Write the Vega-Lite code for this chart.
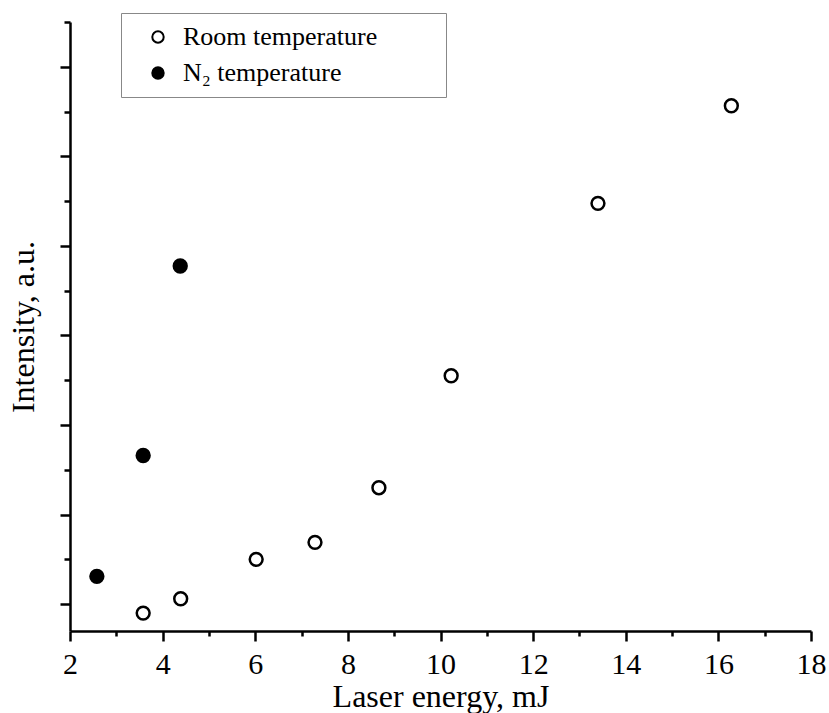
{
  "$schema": "https://vega.github.io/schema/vega-lite/v6.json",
  "autosize": {"type": "none"},
  "padding": {"left": 70, "top": 22, "right": 18, "bottom": 82},
  "width": 741,
  "height": 609,
  "background": "white",
  "config": {
    "view": {"stroke": null},
    "font": "Liberation Serif",
    "axis": {
      "domainColor": "black",
      "domainWidth": 2.5,
      "tickColor": "black",
      "tickWidth": 2.5,
      "grid": false,
      "labelFont": "Liberation Serif",
      "labelFontSize": 30,
      "labelColor": "black",
      "titleFont": "Liberation Serif",
      "titleFontSize": 32,
      "titleFontWeight": "normal",
      "titleColor": "black"
    }
  },
  "data": {
    "values": [
      {"energy": 3.58, "intensity": -0.10, "series": "Room temperature"},
      {"energy": 4.39, "intensity": 0.06, "series": "Room temperature"},
      {"energy": 6.02, "intensity": 0.50, "series": "Room temperature"},
      {"energy": 7.29, "intensity": 0.69, "series": "Room temperature"},
      {"energy": 8.67, "intensity": 1.30, "series": "Room temperature"},
      {"energy": 10.23, "intensity": 2.55, "series": "Room temperature"},
      {"energy": 13.40, "intensity": 4.475, "series": "Room temperature"},
      {"energy": 16.28, "intensity": 5.565, "series": "Room temperature"},
      {"energy": 2.58, "intensity": 0.31, "series": "N₂ temperature"},
      {"energy": 3.58, "intensity": 1.66, "series": "N₂ temperature"},
      {"energy": 4.38, "intensity": 3.775, "series": "N₂ temperature"}
    ]
  },
  "mark": {"type": "point", "shape": "circle", "filled": true, "size": 165, "stroke": "black", "strokeWidth": 2.5, "opacity": 1},
  "encoding": {
    "x": {
      "field": "energy",
      "type": "quantitative",
      "scale": {"domain": [2, 18], "nice": false, "zero": false},
      "axis": {
        "title": "Laser energy, mJ",
        "values": [2, 3, 4, 5, 6, 7, 8, 9, 10, 11, 12, 13, 14, 15, 16, 17, 18],
        "labelExpr": "datum.value % 2 === 0 ? datum.label : ''",
        "tickSize": {"condition": {"test": "datum.value % 2 === 1", "value": 5}, "value": 10},
        "labelPadding": 8,
        "titlePadding": 2,
        "labelFlush": false,
        "labelOverlap": false
      }
    },
    "y": {
      "field": "intensity",
      "type": "quantitative",
      "scale": {"domain": [-0.3, 6.5], "nice": false, "zero": false},
      "axis": {
        "title": "Intensity, a.u.",
        "values": [0, 0.5, 1, 1.5, 2, 2.5, 3, 3.5, 4, 4.5, 5, 5.5, 6, 6.5],
        "labels": false,
        "tickSize": {"condition": {"test": "datum.value % 1 !== 0", "value": 6}, "value": 10},
        "titlePadding": 18
      }
    },
    "fill": {
      "field": "series",
      "type": "nominal",
      "scale": {"domain": ["Room temperature", "N₂ temperature"], "range": ["white", "black"]},
      "legend": {
        "title": null,
        "orient": "none",
        "legendX": 51,
        "legendY": -9,
        "padding": 11,
        "fillColor": "white",
        "strokeColor": "#888888",
        "labelFont": "Liberation Serif",
        "labelFontSize": 26,
        "labelColor": "black",
        "labelLimit": 0,
        "labelExpr": "datum.label + '\u2800\u2800\u2800'",
        "symbolType": "circle",
        "symbolSize": 130,
        "symbolStrokeColor": "black",
        "symbolStrokeWidth": 2,
        "symbolOffset": 13,
        "labelOffset": 12,
        "rowPadding": 10
      }
    }
  }
}
